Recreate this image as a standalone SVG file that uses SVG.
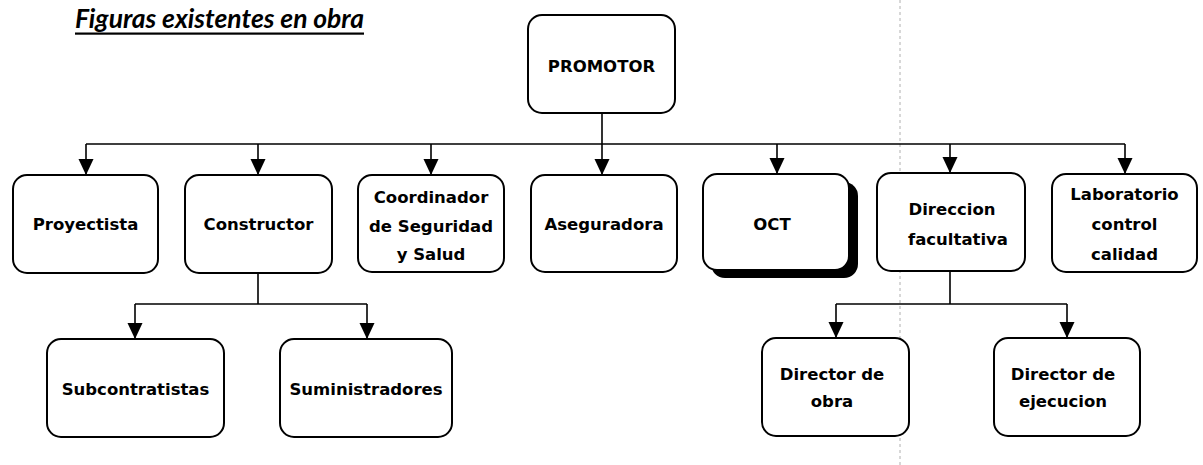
<svg xmlns="http://www.w3.org/2000/svg" width="1203" height="465" viewBox="0 0 1203 465">
<style>
.box{fill:#fff;stroke:#000;stroke-width:2}
.lbl{font-family:"DejaVu Sans",sans-serif;font-weight:bold;font-size:16.5px;fill:#000;text-anchor:middle}
.con{fill:none;stroke:#000;stroke-width:1.6}
.title{font-family:Lato,"Liberation Sans",sans-serif;font-style:italic;font-weight:bold;font-size:26px;fill:#000}
</style>
<defs>
<marker id="ah" markerUnits="userSpaceOnUse" markerWidth="16" markerHeight="17" viewBox="0 0 17 16" refX="17" refY="8" orient="auto">
<path d="M0,0 L17,8 L0,16 Z" fill="#000"/>
</marker>
</defs>
<rect width="1203" height="465" fill="#fff"/>
<line x1="900" y1="0" x2="900" y2="465" stroke="#b0b0b0" stroke-width="1" stroke-dasharray="3,3"/>
<g id="title">
<text class="title" x="75" y="28" textLength="289" lengthAdjust="spacingAndGlyphs">Figuras existentes en obra</text>
<rect x="75" y="32.5" width="289" height="2.2" fill="#000"/>
</g>
<g id="connectors">
<path class="con" d="M602,113 V144 M86,144 H1125"/>
<path class="con" marker-end="url(#ah)" d="M86,144 V175"/>
<path class="con" marker-end="url(#ah)" d="M258,144 V175"/>
<path class="con" marker-end="url(#ah)" d="M431,144 V175"/>
<path class="con" marker-end="url(#ah)" d="M602,144 V175"/>
<path class="con" marker-end="url(#ah)" d="M777,144 V174"/>
<path class="con" marker-end="url(#ah)" d="M950,144 V173"/>
<path class="con" marker-end="url(#ah)" d="M1125,144 V174"/>
<path class="con" d="M258,273 V304 M135,304 H367"/>
<path class="con" marker-end="url(#ah)" d="M135,304 V339"/>
<path class="con" marker-end="url(#ah)" d="M367,304 V339"/>
<path class="con" d="M950,271 V304 M836,304 H1067"/>
<path class="con" marker-end="url(#ah)" d="M836,304 V338"/>
<path class="con" marker-end="url(#ah)" d="M1067,304 V338"/>
</g>
<g id="promotor">
<rect class="box" x="528" y="15" width="147" height="98" rx="14"/>
<text class="lbl" x="601.5" y="72">PROMOTOR</text>
</g>
<g id="proyectista">
<rect class="box" x="13" y="175" width="145" height="98" rx="14"/>
<text class="lbl" x="85.5" y="230">Proyectista</text>
</g>
<g id="constructor">
<rect class="box" x="185" y="175" width="147" height="98" rx="14"/>
<text class="lbl" x="258.5" y="230">Constructor</text>
</g>
<g id="coordinador">
<rect class="box" x="358" y="175" width="146" height="97" rx="14"/>
<text class="lbl" x="431" y="203">Coordinador</text>
<text class="lbl" x="431" y="232">de Seguridad</text>
<text class="lbl" x="431" y="260">y Salud</text>
</g>
<g id="aseguradora">
<rect class="box" x="531" y="175" width="146" height="97" rx="14"/>
<text class="lbl" x="604" y="230">Aseguradora</text>
</g>
<g id="oct">
<rect x="711" y="182" width="147" height="96" rx="14" fill="#000"/>
<rect class="box" x="703" y="174" width="146" height="96" rx="14"/>
<text class="lbl" x="772" y="230">OCT</text>
</g>
<g id="direccion">
<rect class="box" x="877" y="173" width="148" height="98" rx="14"/>
<text class="lbl" x="952" y="215">Direccion</text>
<text class="lbl" x="958" y="245">facultativa</text>
</g>
<g id="laboratorio">
<rect class="box" x="1052" y="174" width="145" height="98" rx="14"/>
<text class="lbl" x="1124.5" y="200">Laboratorio</text>
<text class="lbl" x="1124.5" y="230">control</text>
<text class="lbl" x="1124.5" y="260">calidad</text>
</g>
<g id="subcontratistas">
<rect class="box" x="47" y="339" width="177" height="98" rx="14"/>
<text class="lbl" x="135.5" y="395">Subcontratistas</text>
</g>
<g id="suministradores">
<rect class="box" x="280" y="339" width="172" height="98" rx="14"/>
<text class="lbl" x="366" y="395">Suministradores</text>
</g>
<g id="director-obra">
<rect class="box" x="762" y="338" width="147" height="98" rx="14"/>
<text class="lbl" x="832" y="380">Director de</text>
<text class="lbl" x="832" y="407">obra</text>
</g>
<g id="director-ejecucion">
<rect class="box" x="994" y="338" width="146" height="98" rx="14"/>
<text class="lbl" x="1063" y="380">Director de</text>
<text class="lbl" x="1063" y="407">ejecucion</text>
</g>
</svg>
